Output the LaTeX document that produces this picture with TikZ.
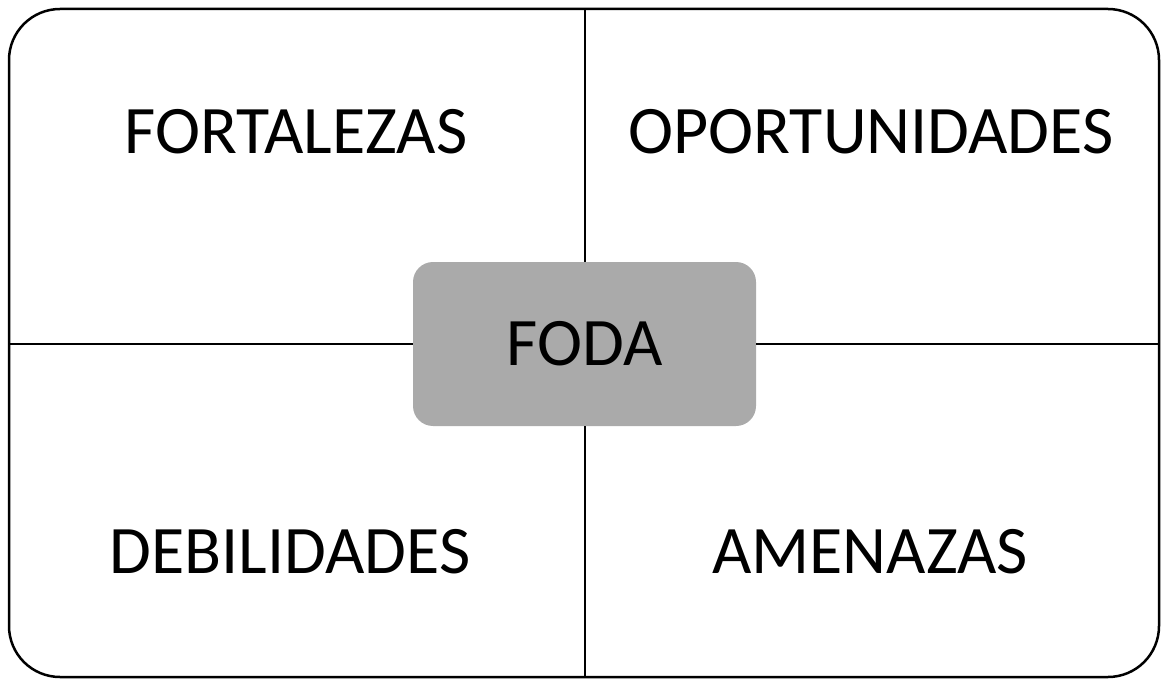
\documentclass[tikz,border=0pt]{standalone}
\usepackage{fontspec}
\setmainfont{Carlito}
\usetikzlibrary{positioning}
\definecolor{fodagray}{HTML}{AAAAAA}
\tikzset{quad/.style = {font=\fontsize{68}{80}\selectfont}}
\tikzset{divider/.style = {line width=2pt}}

\begin{document}
\begin{tikzpicture}[x=1pt,y=-1pt]
\useasboundingbox (0,0) rectangle (1162,679);

\draw[line width=2.5pt, rounded corners=51pt] (9,9) rectangle (1159,677);

\node[quad, fill=fodagray, rounded corners=20pt, minimum width=343pt, minimum height=164pt] (foda) at (584.5,344) {FODA};

\coordinate (top) at (584.5,9);
\coordinate (bottom) at (584.5,677);
\coordinate (left) at (9,344);
\coordinate (right) at (1159,344);

\draw[divider] (foda.north) -- (top);
\draw[divider] (foda.south) -- (bottom);
\draw[divider] (foda.west) -- (left);
\draw[divider] (foda.east) -- (right);

\node[quad] (fortalezas) at (296,132) {FORTALEZAS};
\node[quad] (oportunidades) at (871,132) {OPORTUNIDADES};
\node[quad] (debilidades) at (290,552) {DEBILIDADES};
\node[quad] (amenazas) at (870,552) {AMENAZAS};
\end{tikzpicture}
\end{document}
